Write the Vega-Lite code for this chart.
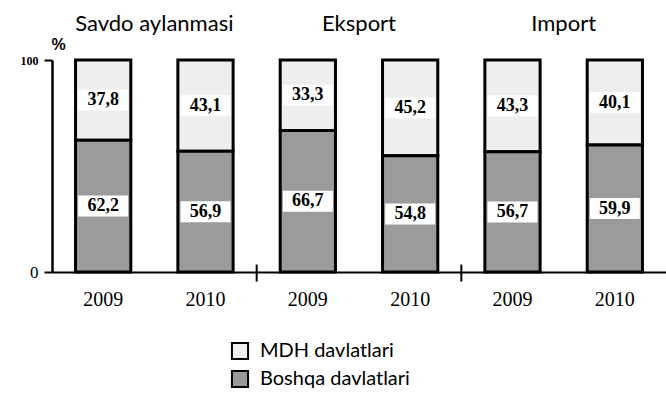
{
  "$schema": "https://vega.github.io/schema/vega-lite/v6.json",
  "width": 614,
  "height": 212,
  "autosize": {"type": "none"},
  "padding": {"left": 52, "top": 60, "right": 0, "bottom": 141},
  "background": "white",
  "config": {
    "view": {"stroke": null},
    "axisX": {
      "labelFont": "Liberation Serif", "labelFontSize": 20, "labelColor": "black",
      "labelPadding": 17, "tickSize": 0, "domainColor": "black", "domainWidth": 2, "labelAngle": 0, "title": null
    }
  },
  "datasets": {
    "bars": [
      {"id": "S2009", "group": "Savdo aylanmasi", "series": "MDH davlatlari", "value": 37.8},
      {"id": "S2009", "group": "Savdo aylanmasi", "series": "Boshqa davlatlari", "value": 62.2},
      {"id": "S2010", "group": "Savdo aylanmasi", "series": "MDH davlatlari", "value": 43.1},
      {"id": "S2010", "group": "Savdo aylanmasi", "series": "Boshqa davlatlari", "value": 56.9},
      {"id": "E2009", "group": "Eksport", "series": "MDH davlatlari", "value": 33.3},
      {"id": "E2009", "group": "Eksport", "series": "Boshqa davlatlari", "value": 66.7},
      {"id": "E2010", "group": "Eksport", "series": "MDH davlatlari", "value": 45.2},
      {"id": "E2010", "group": "Eksport", "series": "Boshqa davlatlari", "value": 54.8},
      {"id": "I2009", "group": "Import", "series": "MDH davlatlari", "value": 43.3},
      {"id": "I2009", "group": "Import", "series": "Boshqa davlatlari", "value": 56.7},
      {"id": "I2010", "group": "Import", "series": "MDH davlatlari", "value": 40.1},
      {"id": "I2010", "group": "Import", "series": "Boshqa davlatlari", "value": 59.9}
    ],
    "headers": [
      {"id": "S2009", "name": "Savdo aylanmasi"},
      {"id": "E2009", "name": "Eksport"},
      {"id": "I2009", "name": "Import"}
    ],
    "seps": [
      {"id": "S2010"},
      {"id": "E2010"}
    ]
  },
  "layer": [
    {
      "data": {"name": "bars"},
      "mark": {"type": "bar", "stroke": "black", "strokeWidth": 3},
      "encoding": {
        "x": {
          "field": "id", "type": "nominal", "sort": null,
          "scale": {"paddingInner": 0.46, "paddingOuter": 0.23},
          "axis": {
            "title": null, "labelExpr": "substring(datum.value, 1)",
            "labelFont": "Liberation Serif", "labelFontSize": 20
          }
        },
        "y": {
          "field": "value", "type": "quantitative", "stack": "zero",
          "scale": {"domain": [0, 100], "nice": false},
          "axis": {
            "values": [0, 100], "grid": false, "domainColor": "black", "domainWidth": 2.5,
            "tickColor": "black", "tickWidth": 2, "tickSize": 8,
            "labelFont": "Liberation Serif",
            "labelFontSize": {"condition": {"test": "datum.value == 100", "value": 12}, "value": 17},
            "labelFontWeight": {"condition": {"test": "datum.value == 100", "value": "bold"}, "value": "normal"},
            "labelColor": "black",
            "labelPadding": 6,
            "title": "%", "titleAngle": 0, "titleX": 6, "titleY": -8, "titleAlign": "center",
            "titleFont": "Liberation Sans", "titleFontSize": 16, "titleFontWeight": "bold", "titleColor": "black"
          }
        },
        "color": {
          "field": "series", "type": "nominal",
          "scale": {"domain": ["MDH davlatlari", "Boshqa davlatlari"], "range": ["#eeeeee", "#9b9b9b"]},
          "legend": {
            "title": null, "orient": "none", "legendX": 178, "legendY": 281,
            "symbolType": "square", "symbolSize": 260, "symbolStrokeColor": "black", "symbolStrokeWidth": 2,
            "labelFont": "Lato", "labelFontSize": 20, "labelColor": "black", "rowPadding": 2, "labelOffset": 10
          }
        },
        "order": {"field": "series", "sort": "ascending"}
      }
    },
    {
      "data": {"name": "bars"},
      "transform": [
        {"stack": "value", "groupby": ["id"], "sort": [{"field": "series", "order": "ascending"}], "as": ["v0", "v1"]},
        {"calculate": "(datum.v0 + datum.v1) / 2", "as": "mid"},
        {"calculate": "replace(format(datum.value, '.1f'), '.', ',')", "as": "label"}
      ],
      "layer": [
        {
          "mark": {"type": "point", "shape": "M-1,-0.42H1V0.42H-1Z", "size": 2500, "filled": true, "fill": "white", "opacity": 1, "strokeWidth": 0},
          "encoding": {
            "x": {"field": "id", "type": "nominal", "sort": null},
            "y": {"field": "mid", "type": "quantitative"}
          }
        },
        {
          "mark": {"type": "text", "font": "Liberation Serif", "fontSize": 18, "fontWeight": "bold", "color": "black", "baseline": "middle"},
          "encoding": {
            "x": {"field": "id", "type": "nominal", "sort": null},
            "y": {"field": "mid", "type": "quantitative"},
            "text": {"field": "label"}
          }
        }
      ]
    },
    {
      "data": {"name": "headers"},
      "mark": {"type": "text", "font": "Lato", "fontSize": 22, "color": "black", "baseline": "middle", "align": "center"},
      "encoding": {
        "x": {"field": "id", "type": "nominal", "sort": null, "bandPosition": 1.426},
        "y": {"datum": 117},
        "text": {"field": "name"}
      }
    },
    {
      "data": {"name": "seps"},
      "mark": {"type": "rule", "stroke": "black", "strokeWidth": 2},
      "encoding": {
        "x": {"field": "id", "type": "nominal", "sort": null, "bandPosition": 1.426},
        "y": {"datum": -4.5},
        "y2": {"datum": 3.5}
      }
    }
  ]
}
